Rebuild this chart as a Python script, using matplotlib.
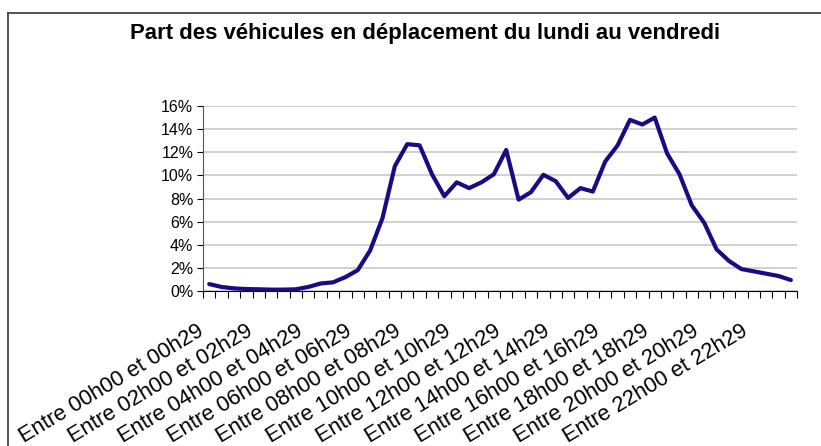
import matplotlib.pyplot as plt
import matplotlib.transforms as mtransforms
from matplotlib.lines import Line2D
from matplotlib.ticker import FuncFormatter

plt.rcParams['font.family'] = ['Liberation Sans', 'DejaVu Sans']

# --- Data: share of vehicles on the move, per half-hour slot (%) ---
share = [0.6, 0.35, 0.23, 0.17, 0.15, 0.12, 0.12, 0.15,
         0.35, 0.65, 0.75, 1.2, 1.8, 3.5, 6.3, 10.8,
         12.7, 12.6, 10.1, 8.2, 9.4, 8.9, 9.4, 10.1,
         12.2, 7.9, 8.55, 10.05, 9.5, 8.05, 8.9, 8.6,
         11.2, 12.6, 14.8, 14.4, 15.0, 11.9, 10.1, 7.4,
         5.9, 3.6, 2.6, 1.9, 1.7, 1.5, 1.3, 0.95]
label_hours = [0, 2, 4, 6, 8, 10, 12, 14, 16, 18, 20, 22]
tick_labels = [f"Entre {h:02d}h00 et {h:02d}h29" for h in label_hours]
title = "Part des véhicules en déplacement du lundi au vendredi"

slots = list(range(len(share)))
label_pos = [h * 2 for h in label_hours]

# --- Plot ---
fig = plt.figure(figsize=(8.21, 4.46), dpi=100)
ax = fig.add_axes([0.2473, 0.3475, 0.7235, 0.4148])

ax.plot(slots, share, color="#170c82", linewidth=3.0, solid_joinstyle="round",
        solid_capstyle="round", zorder=3)

ax.set_xlim(-0.5, len(share) - 0.5)
ax.set_ylim(0, 16)
ax.set_yticks(range(0, 17, 2))
ax.yaxis.set_major_formatter(FuncFormatter(lambda v, p: f"{v:.0f}%"))
ax.grid(axis="y", color="#c8c8c8", linewidth=1.2)
ax.set_axisbelow(True)

# category boundaries get the tick marks, labels sit on the slots
ax.set_xticks([i - 0.5 for i in range(len(share) + 1)], minor=True)
ax.set_xticks(label_pos)
ax.set_xticklabels(tick_labels, rotation=31, ha="right", va="top",
                   rotation_mode="anchor", fontsize=15.8)
ax.tick_params(axis="x", which="major", length=0, pad=21)
ax.tick_params(axis="x", which="minor", length=5, width=0.8, direction="out")
ax.tick_params(axis="y", length=4, width=0.8, labelsize=11.5, pad=3)

shift = mtransforms.ScaledTranslation(-13 / 100, 0, fig.dpi_scale_trans)
for lab in ax.get_xticklabels():
    lab.set_transform(lab.get_transform() + shift)

for side in ["top", "right"]:
    ax.spines[side].set_visible(False)
ax.spines["left"].set_color("#555555")
ax.spines["bottom"].set_color("black")

fig.text(0.518, 0.926, title, ha="center", va="center", fontsize=15.9, fontweight="bold")

# outer frame (left and top)
fig.add_artist(Line2D([0.0103, 0.0103], [0, 0.971], color="#444444", linewidth=1.3,
                      transform=fig.transFigure))
fig.add_artist(Line2D([0.0103, 1.0], [0.971, 0.971], color="#444444", linewidth=1.3,
                      transform=fig.transFigure))

fig.savefig("out.png", dpi=100)
